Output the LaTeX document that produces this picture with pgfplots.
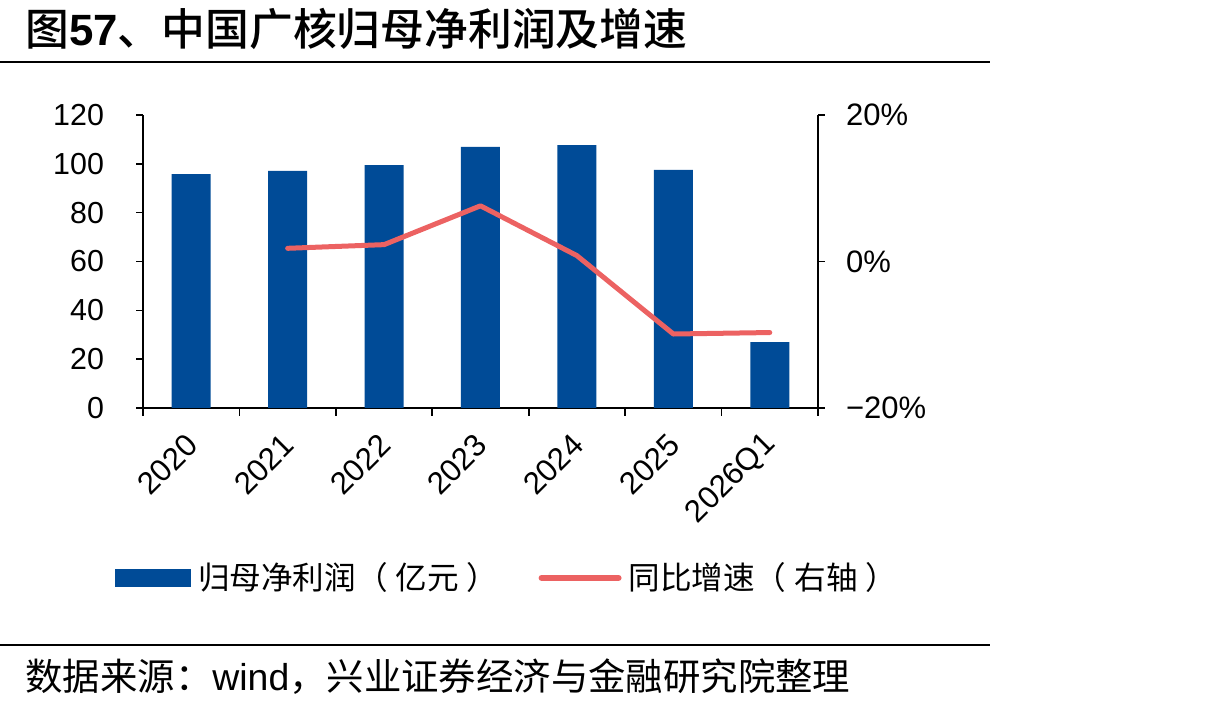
\documentclass[border=0pt]{standalone}
\usepackage{fontspec}
\usepackage{pgfplots}
\pgfplotsset{compat=1.18}
\setmainfont{Liberation Sans}
\newfontfamily\cjk{Noto Sans CJK SC}
\newfontfamily\cjkm{Noto Sans CJK SC Medium}
\definecolor{barblue}{RGB}{0,75,151}
\definecolor{linered}{RGB}{236,98,98}
\begin{document}
\begin{tikzpicture}
\useasboundingbox (0,0) rectangle (602.5pt,355pt);
\begin{scope}[x=0.5pt,y=-0.5pt,yshift=355pt]
\node[anchor=west,inner sep=0] at (25,29) {\fontsize{21.9pt}{21.9pt}\selectfont{\cjkm 图}\textbf{57}{\cjkm 、中国广核归母净利润及增速}};
\draw[line width=1pt] (0,62) -- (990,62);
\draw[line width=1pt] (0,645) -- (990,645);
\node[anchor=west,inner sep=0] at (25,677) {\fontsize{18.7pt}{18.7pt}\selectfont{\cjk 数据来源：}wind{\cjk ，兴业证券经济与金融研究院整理}};
\end{scope}

\begin{axis}[
 at={(71.5pt,151pt)}, anchor=south west, scale only axis,
 width=337.5pt, height=146.5pt,
 xmin=-0.5, xmax=6.5, ymin=0, ymax=120,
 axis x line*=bottom, axis y line*=left,
 xtick={0,...,6},
 xticklabels={2020,2021,2022,2023,2024,2025,2026Q1},
 minor xtick={-0.5,0.5,...,6.5},
 ytick={0,20,...,120},
 tick align=outside,
 major tick length=3.5pt, minor tick length=4pt,
 tick style={black, line width=0.8pt},
 major x tick style={draw=none},
 axis line style={black, line width=0.8pt},
 ticklabel style={font=\fontsize{15.2pt}{15.2pt}\selectfont},
 /pgf/number format/assume math mode=true,
 xticklabel style={xshift=3pt, yshift=-10pt, rotate=45, anchor=east, font=\fontsize{15.6pt}{15.6pt}\selectfont},
 yticklabel style={xshift=-12.5pt},
 clip=false,
]
\addplot[ybar, bar width=19.5pt, fill=barblue, draw=none] coordinates {
(0,95.8) (1,97.1) (2,99.5) (3,106.9) (4,107.7) (5,97.5) (6,27.0)};
\end{axis}

\begin{axis}[
 at={(71.5pt,151pt)}, anchor=south west, scale only axis,
 width=337.5pt, height=146.5pt,
 xmin=-0.5, xmax=6.5, ymin=-20, ymax=20,
 axis x line=none, axis y line*=right,
 ytick={-20,0,20},
 yticklabels={−20\%,0\%,20\%},
 tick align=outside,
 major tick length=3.5pt,
 tick style={black, line width=0.8pt},
 axis line style={black, line width=0.8pt},
 ticklabel style={font=\fontsize{15.5pt}{15.5pt}\selectfont},
 yticklabel style={xshift=7pt},
 clip=false,
 legend columns=2,
 legend style={at={(-0.0415,-0.58)}, anchor=west, draw=none, fill=none,
   font=\fontsize{15.8pt}{15.8pt}\selectfont, inner sep=0pt,
   /tikz/every even column/.append style={column sep=18pt}},
]
\addlegendimage{legend image code/.code={\fill[barblue] (0pt,-4.25pt) rectangle (37.5pt,4.25pt);}}
\addlegendentry{\hspace{1.5pt}\cjk 归母净利润（\hspace{4pt}亿元\hspace{4pt}）}
\addplot[linered, line width=2.5pt, line join=round, line cap=round,
  legend image code/.code={\draw[linered, line width=3pt, line cap=round] (0pt,0pt) -- (38.5pt,0pt);}]
  coordinates {(1,1.8) (2,2.3) (3,7.6) (4,0.8) (5,-9.9) (6,-9.7)};
\addlegendentry{\hspace{1.5pt}\cjk 同比增速（\hspace{4pt}右轴\hspace{4pt}）}
\end{axis}
\end{tikzpicture}
\end{document}
